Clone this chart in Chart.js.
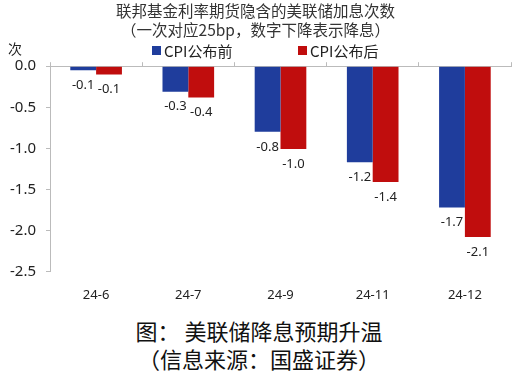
<!DOCTYPE html>
<html>
<head>
<meta charset="utf-8">
<script src="https://cdn.jsdelivr.net/npm/chart.js@4/dist/chart.umd.min.js"></script>
<style>
  html, body { margin: 0; padding: 0; background: #fff; }
  #wrap { position: relative; width: 518px; height: 311px; }
  .caption {
    width: 518px;
    text-align: center;
    font-family: "Noto Sans CJK SC", sans-serif;
    color: #111;
    font-size: 22px;
    line-height: 28px;
  }
</style>
</head>
<body>
<div id="wrap"><canvas id="rateChart"></canvas></div>
<div class="caption" style="margin-top:5px">图：&nbsp;美联储降息预期升温</div>
<div class="caption">（信息来源：国盛证券）</div>

<script>
// Data
const categories = ["24-6", "24-7", "24-9", "24-11", "24-12"];
const beforeCPI = [-0.05, -0.31, -0.8, -1.17, -1.72];
const afterCPI = [-0.1, -0.38, -1.01, -1.41, -2.08];
const seriesNames = ["CPI公布前", "CPI公布后"];
const yTicks = [0, -0.5, -1.0, -1.5, -2.0, -2.5];

const titleLines = ["联邦基金利率期货隐含的美联储加息次数", "（一次对应25bp，数字下降表示降息）"];
const unitLabel = "次";

const blue = "#1f3d9c";
const red = "#c00d0d";

// value labels under bars, unit label, and a wide-spaced legend
const extraText = {
  id: "extraText",
  afterDatasetsDraw(chart) {
    const ctx = chart.ctx;
    ctx.save();
    ctx.font = '13px "Noto Sans", sans-serif';
    ctx.fillStyle = "#222";
    ctx.textAlign = "center";
    ctx.textBaseline = "middle";
    chart.data.datasets.forEach((ds, i) => {
      chart.getDatasetMeta(i).data.forEach((bar, j) => {
        ctx.fillText(ds.data[j].toFixed(1), bar.x, bar.y + 15);
      });
    });

    ctx.font = '14px "Noto Sans CJK SC", sans-serif';
    ctx.fillText(unitLabel, 15, 49);

    // legend
    const legendX = [152, 298];
    ctx.textAlign = "left";
    ctx.font = '15px "Noto Sans CJK SC", sans-serif';
    chart.data.datasets.forEach((ds, i) => {
      ctx.fillStyle = ds.backgroundColor;
      ctx.fillRect(legendX[i], 46, 9, 9);
      ctx.fillStyle = "#222";
      ctx.fillText(ds.label, legendX[i] + 12, 51);
    });
    ctx.restore();
  },
};

document.addEventListener("DOMContentLoaded", function () {
  const ctx = document.getElementById("rateChart").getContext("2d");

  new Chart(ctx, {
    type: "bar",
    data: {
      labels: categories,
      datasets: [
        {
          label: seriesNames[0],
          data: beforeCPI,
          backgroundColor: blue,
          categoryPercentage: 0.56,
          barPercentage: 1.0,
        },
        {
          label: seriesNames[1],
          data: afterCPI,
          backgroundColor: red,
          categoryPercentage: 0.56,
          barPercentage: 1.0,
        },
      ],
    },
    options: {
      responsive: true,
      maintainAspectRatio: false,
      animation: false,
      layout: { padding: { left: 0, right: 7, top: 2, bottom: 0 } },
      plugins: {
        title: {
          display: true,
          text: titleLines,
          color: "#333",
          font: { family: '"Noto Sans CJK SC", sans-serif', size: 15.5, weight: "normal" },
          padding: { top: 0, bottom: 23 },
          lineHeight: 1.33,
        },
        legend: { display: false },
        tooltip: { enabled: false },
      },
      scales: {
        x: {
          position: "bottom",
          grid: { display: false },
          border: { display: false },
          ticks: {
            color: "#222",
            font: { family: '"Noto Sans", sans-serif', size: 13 },
            padding: 8,
          },
        },
        x2: {
          type: "category",
          position: "top",
          labels: categories,
          offset: true,
          grid: {
            offset: true,
            drawOnChartArea: false,
            tickLength: 4,
            color: "#bbb",
          },
          border: { display: true, color: "#bbb" },
          ticks: { display: false },
        },
        y: {
          min: -2.5,
          max: 0,
          afterBuildTicks: (axis) => {
            axis.ticks = yTicks.map((v) => ({ value: v }));
          },
          grid: { drawOnChartArea: false, tickLength: 4, color: "#bbb" },
          border: { display: true, color: "#bbb" },
          ticks: {
            color: "#222",
            font: { family: '"Noto Sans", sans-serif', size: 15 },
            padding: 10,
            callback: (v) => Number(v).toFixed(1),
          },
        },
      },
    },
    plugins: [extraText],
  });
});
</script>
</body>
</html>
